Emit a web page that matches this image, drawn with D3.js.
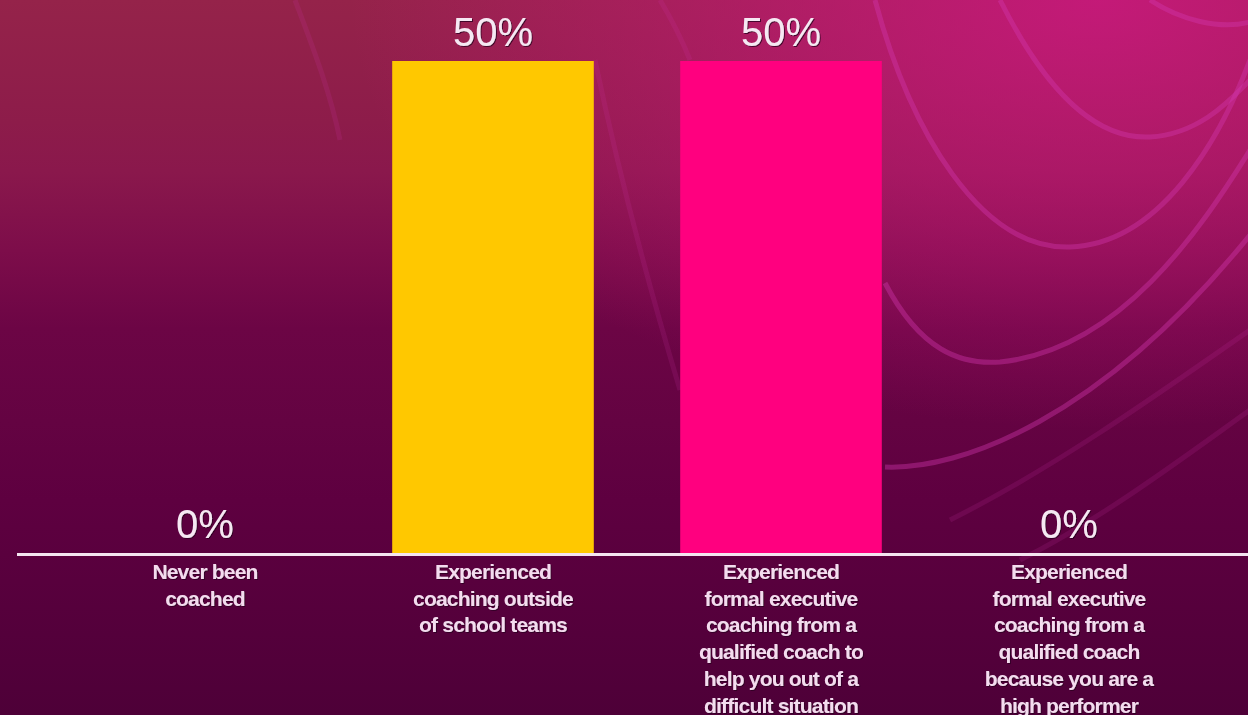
<!DOCTYPE html>
<html>
<head>
<meta charset="utf-8">
<script src="https://cdn.jsdelivr.net/npm/d3@7"></script>
<style>
  html, body { margin: 0; padding: 0; overflow: hidden; background: #5a0040; }
  svg { display: block; }
</style>
</head>
<body>
<div id="chart"></div>
<script>
// data
var categories = [
    ["Never been", "coached"],
    ["Experienced", "coaching outside", "of school teams"],
    ["Experienced", "formal executive", "coaching from a", "qualified coach to", "help you out of a", "difficult situation"],
    ["Experienced", "formal executive", "coaching from a", "qualified coach", "because you are a", "high performer"]
];
var values = [0, 0.5, 0.5, 0];
var barColors = ["#ffc800", "#ffc800", "#ff007f", "#ff007f"];

function start(){
    var width = 1248, height = 715;
    var svg = d3.select("#chart").append("svg")
        .attr("width", width)
        .attr("height", height);

    var defs = svg.append("defs");

    var bg = defs.append("linearGradient").attr("id", "bg")
        .attr("x1", 0).attr("y1", 0).attr("x2", 0).attr("y2", 1);
    [["0%", "#95234a"], ["17%", "#8d1c4a"], ["24%", "#8a184c"], ["35%", "#7d0d4a"],
     ["46%", "#6c0545"], ["59%", "#640342"], ["70%", "#5e0040"], ["100%", "#4e0038"]]
        .forEach(function(s){
            bg.append("stop").attr("offset", s[0]).attr("stop-color", s[1]);
        });

    var glow = defs.append("radialGradient").attr("id", "glow")
        .attr("cx", 0.88).attr("cy", 0).attr("r", 0.6);
    glow.append("stop").attr("offset", "0%").attr("stop-color", "#cc1880").attr("stop-opacity", 0.85);
    glow.append("stop").attr("offset", "100%").attr("stop-color", "#cc1880").attr("stop-opacity", 0);

    var shadow = defs.append("filter").attr("id", "shadow")
        .attr("x", "-10%").attr("y", "-10%").attr("width", "120%").attr("height", "140%");
    shadow.append("feDropShadow").attr("dx", 1).attr("dy", 1).attr("stdDeviation", 0.6)
        .attr("flood-color", "#2a0020").attr("flood-opacity", 0.8);

    svg.append("rect").attr("width", width).attr("height", height).attr("fill", "url(#bg)");
    svg.append("rect").attr("width", width).attr("height", height).attr("fill", "url(#glow)");

    // decorative swirls of the slide background
    var swirls = [
        "M1000,0 C1040,80 1090,140 1150,137 C1200,134 1230,100 1250,80",
        "M875,0 C910,130 980,250 1070,247 C1160,244 1220,140 1250,60",
        "M885,283 C920,350 960,365 1000,362 C1120,350 1200,230 1250,150",
        "M885,467 C960,470 1100,420 1250,235",
        "M1150,0 C1180,20 1220,30 1250,22",
        "M950,520 C1050,470 1150,400 1250,330",
        "M1020,560 C1100,520 1180,460 1250,410",
        "M595,60 C620,180 650,290 680,390",
        "M660,0 C672,20 682,40 690,60",
        "M295,0 C310,40 330,90 340,140"
    ];
    svg.append("g").selectAll("path")
        .data(swirls).enter()
        .append("path")
        .attr("d", d => d)
        .attr("fill", "none")
        .attr("stroke", "#d238b0")
        .attr("stroke-width", 5)
        .attr("stroke-opacity", (d, i) => i < 5 ? 0.4 : 0.15);

    var x = d3.scaleBand()
        .domain(d3.range(categories.length))
        .range([61, 1213])
        .paddingInner(0.3)
        .paddingOuter(0.15);

    var y = d3.scaleLinear()
        .domain([0, 0.5])
        .range([553, 61]);

    svg.selectAll(".bar")
        .data(values).enter()
        .append("rect")
        .attr("class", "bar")
        .attr("x", (d, i) => x(i))
        .attr("y", d => y(d))
        .attr("width", x.bandwidth())
        .attr("height", d => y(0) - y(d))
        .attr("fill", (d, i) => barColors[i]);

    // axis line
    svg.append("line")
        .attr("x1", 17).attr("x2", width)
        .attr("y1", y(0) + 1.5).attr("y2", y(0) + 1.5)
        .attr("stroke", "#f4e4f0")
        .attr("stroke-width", 3);

    svg.selectAll(".val")
        .data(values).enter()
        .append("text")
        .attr("class", "val")
        .attr("x", (d, i) => x(i) + x.bandwidth() / 2)
        .attr("y", d => y(d) - 15)
        .attr("text-anchor", "middle")
        .style("font-family", "'Liberation Sans', Arial, sans-serif")
        .style("font-size", "40px")
        .style("fill", "#f6e8f3")
        .attr("filter", "url(#shadow)")
        .text(d => d3.format(".0%")(d));

    var labels = svg.selectAll(".cat")
        .data(categories).enter()
        .append("text")
        .attr("class", "cat")
        .attr("text-anchor", "middle")
        .style("font-family", "'Liberation Sans', Arial, sans-serif")
        .style("font-size", "21px")
        .style("font-weight", "bold")
        .style("letter-spacing", "-0.8px")
        .style("fill", "#f4dcef")
        .attr("filter", "url(#shadow)");

    labels.each(function(lines, i){
        var t = d3.select(this);
        lines.forEach(function(line, j){
            t.append("tspan")
                .attr("x", x(i) + x.bandwidth() / 2)
                .attr("y", 579 + j * 26.7)
                .text(line);
        });
    });
}

start()
</script>
</body>
</html>
